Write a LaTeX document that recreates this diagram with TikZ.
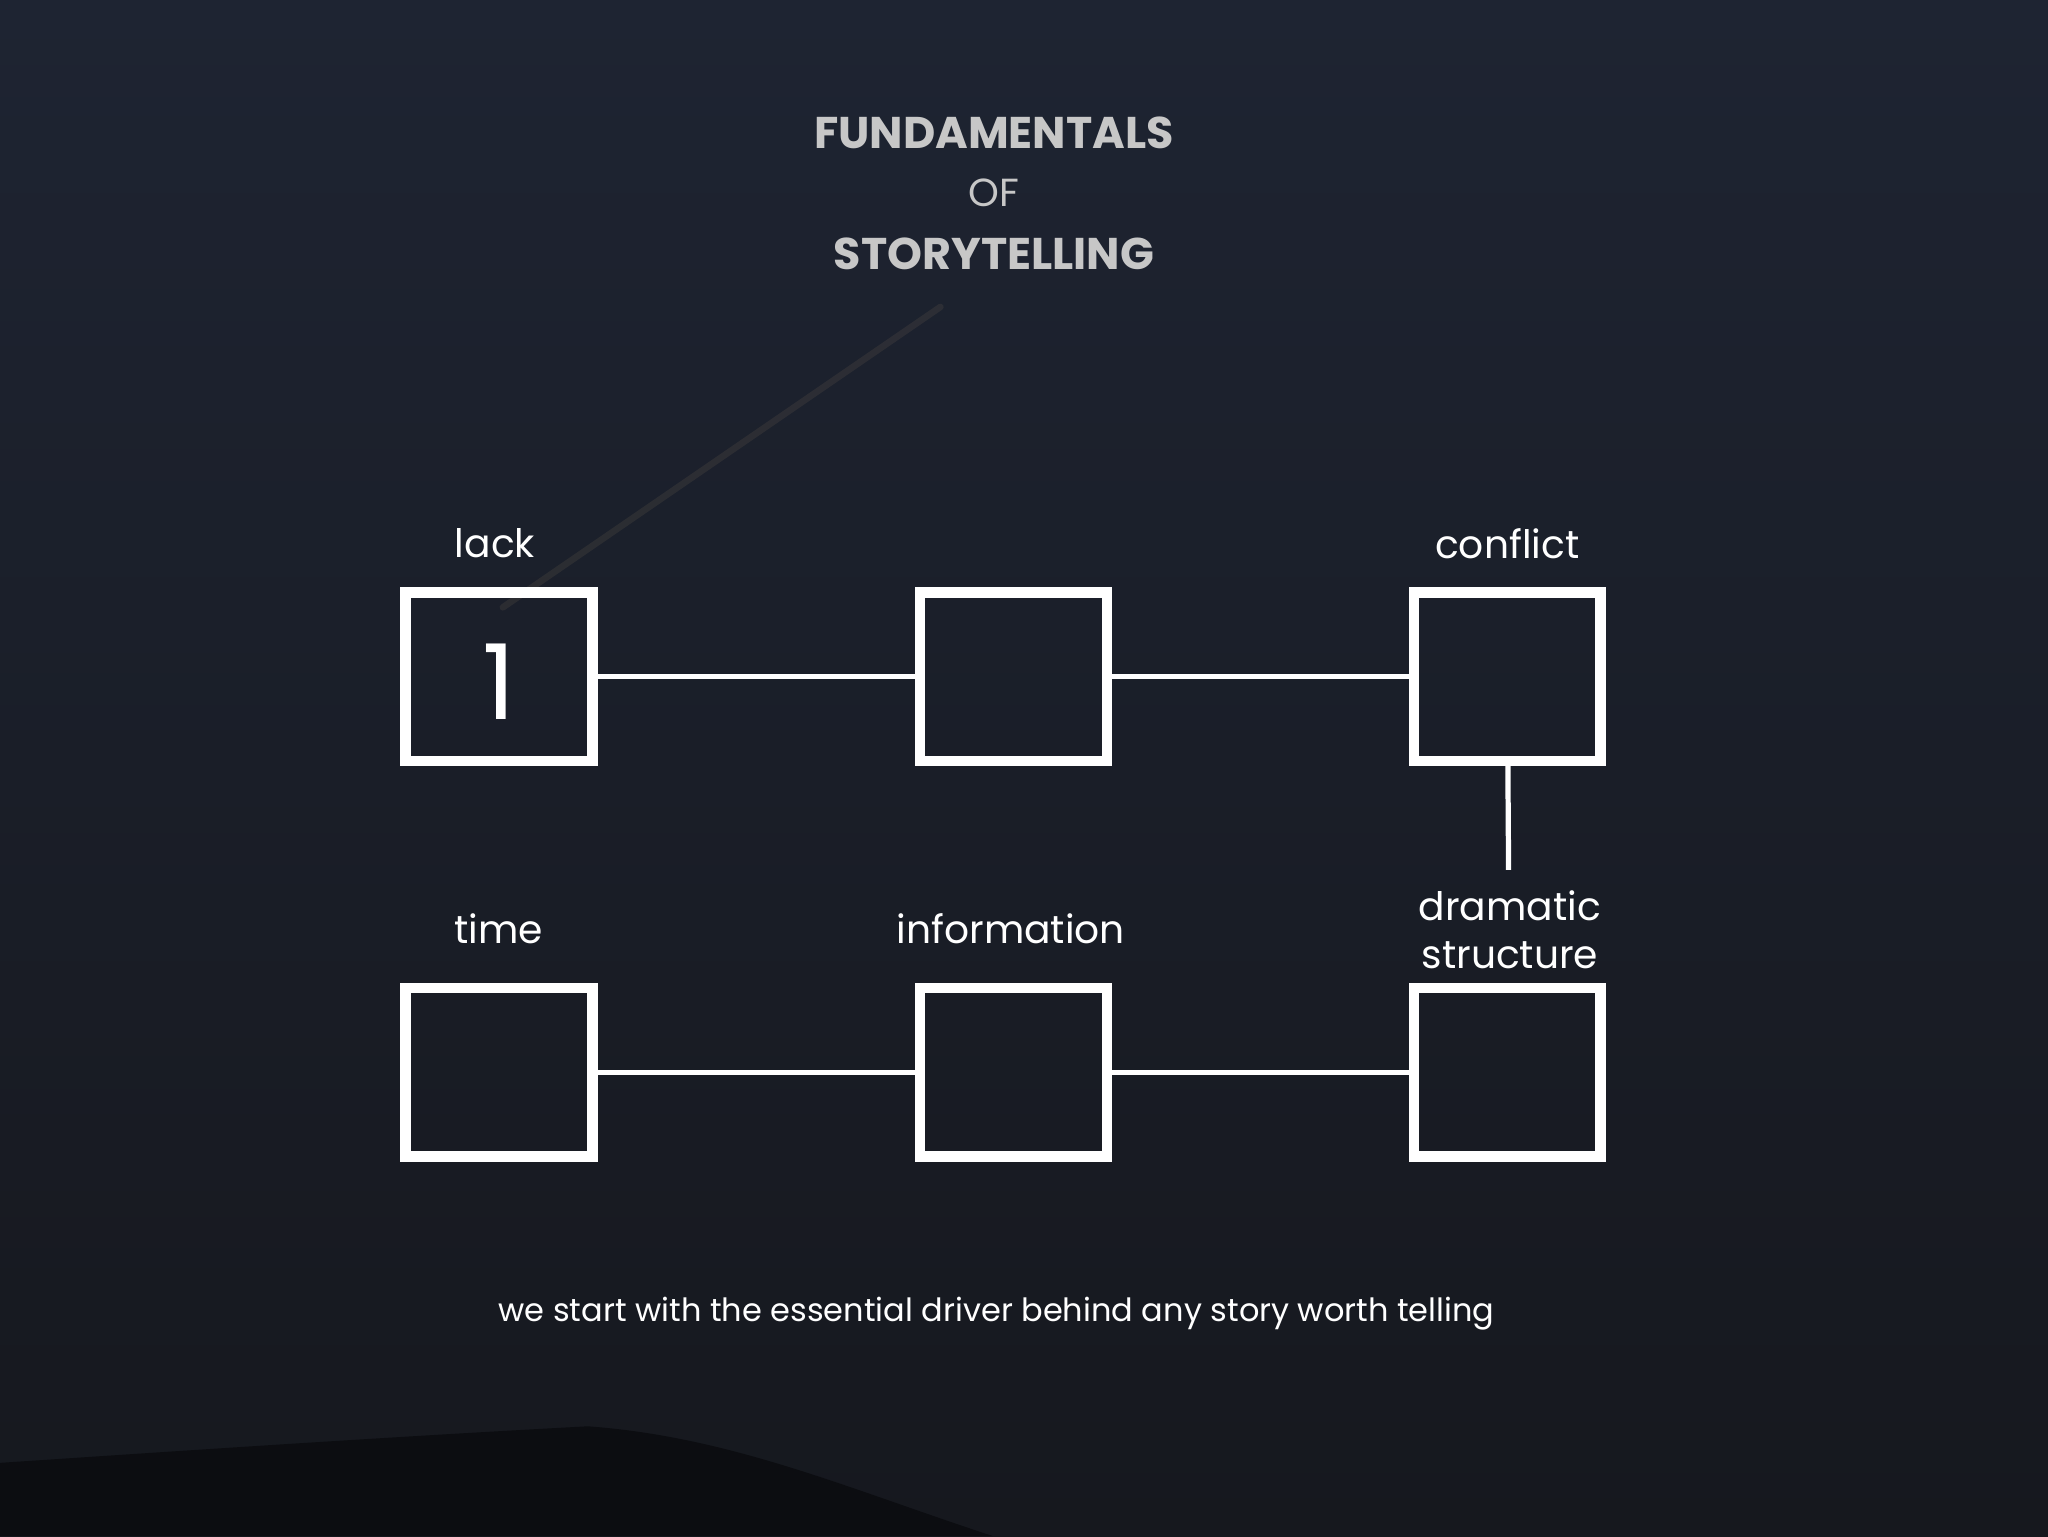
\documentclass[tikz,border=0pt]{standalone}
\usepackage{fontspec}
\setmainfont{Poppins}
\begin{document}
\begin{tikzpicture}[x=1pt,y=-1pt,
  box/.style={draw=white,line width=8pt,minimum width=143pt,minimum height=129pt,inner sep=0pt},
  link/.style={draw=white,line width=4pt},
  lbl/.style={text=white,font=\fontsize{30}{36}\selectfont,align=center},
  ttl/.style={text=black!22,font=\fontsize{34}{38}\selectfont\bfseries}]
\shade[top color={rgb,255:red,30;green,36;blue,50},bottom color={rgb,255:red,22;green,24;blue,30}] (0,0) rectangle (1568,1176);
\useasboundingbox (0,0) rectangle (1568,1176);
\draw[line width=5pt,color={rgb,255:red,120;green,105;blue,85},opacity=0.18,line cap=round] (385,465) -- (720,235);
\fill[color={rgb,255:red,12;green,13;blue,17}] (0,1120) .. controls (150,1110) and (300,1100) .. (450,1092) .. controls (560,1100) and (650,1140) .. (760,1176) -- (0,1176) -- cycle;
\node[ttl] (t1) at (761,102) {FUNDAMENTALS};
\node[ttl,font=\fontsize{30}{32}\selectfont] (t2) at (761,148) {OF};
\node[ttl] (t3) at (761,194) {STORYTELLING};
\node[box] (b1) at (382,518) {};
\node[box] (b2) at (776,518) {};
\node[box] (b3) at (1154,518) {};
\node[box] (b4) at (382,821) {};
\node[box] (b5) at (776,821) {};
\node[box] (b6) at (1154,821) {};
\node[text=white,font=\fontsize{80}{80}\selectfont] (one) at (382,522) {1};
\draw[link] (b1) -- (b2);
\draw[link] (b2) -- (b3);
\draw[link] (b4) -- (b5);
\draw[link] (b5) -- (b6);
\coordinate (v) at (1155,666);
\draw[link] (b3) -- (v);
\node[lbl] (l1) at (379,416) {lack};
\node[lbl] (l3) at (1154,416) {conflict};
\node[lbl] (l4) at (382,711) {time};
\node[lbl] (l5) at (774,711) {information};
\node[lbl,font=\fontsize{30}{37}\selectfont] (l6) at (1156,712) {dramatic\\structure};
\node[text=white,font=\fontsize{24.5}{28}\selectfont] (cap) at (763,1006) {we start with the essential driver behind any story worth telling};
\end{tikzpicture}
\end{document}
